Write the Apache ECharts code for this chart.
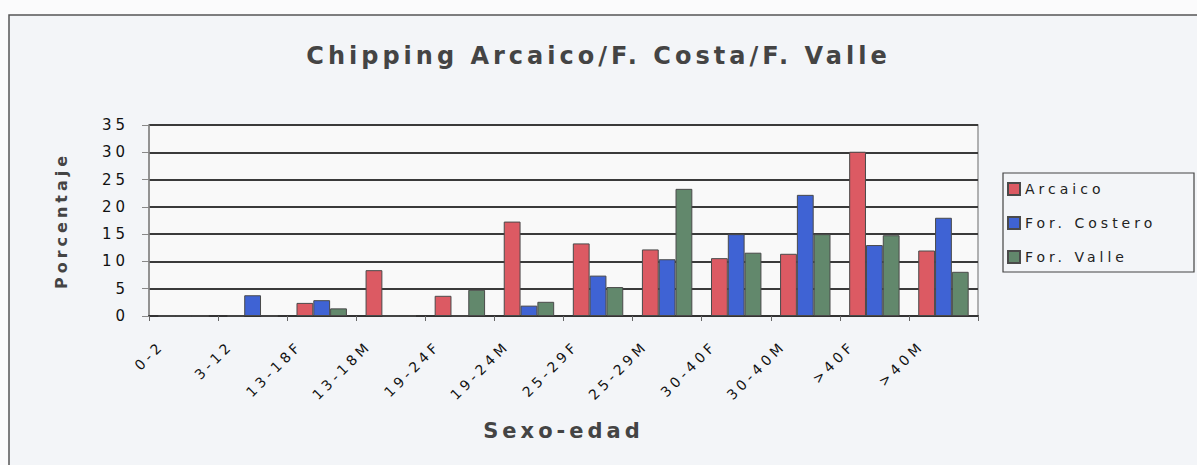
<!DOCTYPE html>
<html>
<head>
<meta charset="utf-8">
<title>Chipping Arcaico/F. Costa/F. Valle</title>
<script src="https://cdn.jsdelivr.net/npm/echarts@6/dist/echarts.min.js"></script>
<style>
  html, body { margin: 0; padding: 0; background: #fbfbfc; }
  #chart { width: 1197px; height: 465px; }
  /* wide, spaced lettering of the old spreadsheet chart */
  #chart svg text { letter-spacing: 4px; }
</style>
</head>
<body>
<div id="chart"></div>
<script>
// Sex/age groups on the x axis
const categories = ['0-2', '3-12', '13-18F', '13-18M', '19-24F', '19-24M',
                    '25-29F', '25-29M', '30-40F', '30-40M', '>40F', '>40M'];

// Percentage of individuals with chipping, per group
const arcaico = [0, 0, 2.4, 8.4, 3.7, 17.3, 13.3, 12.2, 10.6, 11.4, 30.1, 12.0];
const forCostero = [0, 3.8, 2.9, 0, 0, 1.9, 7.4, 10.4, 15.0, 22.2, 13.0, 18.0];
const forValle = [0, 0, 1.4, 0, 4.8, 2.6, 5.3, 23.3, 11.6, 15.0, 14.8, 8.1];

const seriesNames = ['Arcaico', 'For. Costero', 'For. Valle'];
const yTicks = { min: 0, max: 35, interval: 5 };

const FONT = "'DejaVu Sans', sans-serif";
const colors = ['#dc5a63', '#3f63d4', '#62886c'];

const chart = echarts.init(document.getElementById('chart'), null, { renderer: 'svg' });

function bar(name, data, color) {
  return {
    name: name,
    type: 'bar',
    data: data,
    barGap: '0%',
    barCategoryGap: '27%',
    itemStyle: { color: color, borderColor: '#4a4a4a', borderWidth: 1 }
  };
}

chart.setOption({
  backgroundColor: '#fbfbfc',
  animation: false,
  color: colors,
  graphic: [
    {
      type: 'rect', z: -100, silent: true,
      shape: { x: 9, y: 15, width: 1200, height: 470 },
      style: { fill: '#f3f5f8', stroke: '#555', lineWidth: 1.5 }
    },
    {
      type: 'rect', z: 10, silent: true,
      shape: { x: 1003, y: 173, width: 191, height: 99 },
      style: { fill: 'rgba(0,0,0,0)', stroke: '#444', lineWidth: 1.2 }
    }
  ],
  title: {
    text: 'Chipping Arcaico/F. Costa/F. Valle',
    left: 'center',
    top: 44,
    padding: 0,
    textStyle: { fontFamily: FONT, fontSize: 24, fontWeight: 'bold', color: '#444' }
  },
  legend: {
    data: seriesNames,
    orient: 'vertical',
    left: 1007,
    top: 182,
    padding: 0,
    itemWidth: 12,
    itemHeight: 12,
    itemGap: 20,
    icon: 'rect',
    textStyle: { fontFamily: FONT, fontSize: 14, color: '#222' }
  },
  grid: {
    left: 149, right: 219, top: 125, bottom: 149,
    show: true,
    backgroundColor: '#f9f9f9',
    borderColor: '#999',
    borderWidth: 1.5
  },
  xAxis: {
    type: 'category',
    data: categories,
    name: 'Sexo-edad',
    nameLocation: 'middle',
    nameGap: 104,
    nameTextStyle: { fontFamily: FONT, fontSize: 21, fontWeight: 'bold', color: '#444' },
    axisLine: { lineStyle: { color: '#333', width: 2 } },
    axisTick: { show: true, length: 5, lineStyle: { color: '#666' } },
    axisLabel: {
      interval: 0,
      rotate: 45,
      margin: 49,
      align: 'right',
      verticalAlign: 'bottom',
      padding: [0, 0, 24, 0],
      fontFamily: FONT,
      fontSize: 14,
      color: '#111'
    }
  },
  yAxis: {
    type: 'value',
    min: yTicks.min,
    max: yTicks.max,
    interval: yTicks.interval,
    name: 'Porcentaje',
    nameLocation: 'middle',
    nameGap: 80,
    nameTextStyle: { fontFamily: FONT, fontSize: 16, fontWeight: 'bold', color: '#444' },
    axisLine: { show: true, lineStyle: { color: '#888', width: 1.5 } },
    axisTick: { show: true, length: 7, lineStyle: { color: '#888' } },
    axisLabel: { margin: 20, fontFamily: FONT, fontSize: 15, color: '#111' },
    splitLine: { lineStyle: { color: '#3a3a3a', width: 1.8 } }
  },
  series: [
    bar(seriesNames[0], arcaico, colors[0]),
    bar(seriesNames[1], forCostero, colors[1]),
    bar(seriesNames[2], forValle, colors[2])
  ]
});
</script>
</body>
</html>
